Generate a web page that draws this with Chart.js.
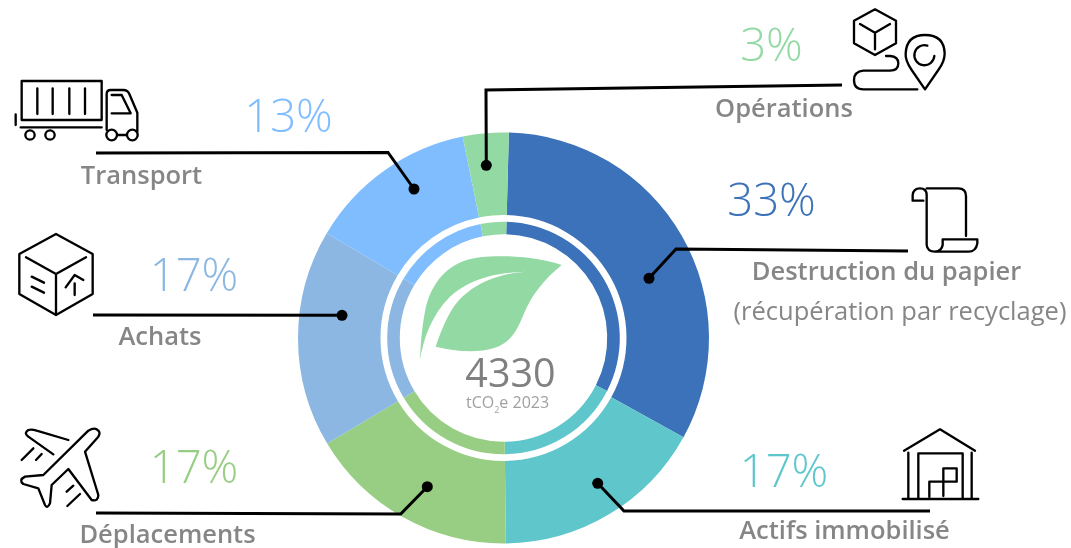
<!DOCTYPE html>
<html lang="fr">
<head>
<meta charset="utf-8">
<title>Bilan carbone 2023</title>
<script src="https://cdn.jsdelivr.net/npm/chart.js@4/dist/chart.umd.min.js"></script>
<style>
html,body{margin:0;padding:0;background:#fff}
#wrap{position:relative;width:1071px;height:548px}
</style>
</head>
<body>
<div id="wrap"><canvas id="c" width="1071" height="548"></canvas></div>
<script>
const categories = ["Destruction du papier","Actifs immobilisé","Déplacements","Achats","Transport","Opérations"];
const outerValues = [32.6,16.8,16.6,17.1,13.3,3.6];
const innerValues = [32.1,17.3,16.6,17.1,13.3,3.6];
const percentLabels = ["33%","17%","17%","17%","13%","3%"];
const colors = ["#3b72b9","#5fc7cc","#97ce83","#8bb7e2","#80bdff","#93d9a3"];
const centerValue = "4330";

const GREY = "#868686";
const FONT = '"Open Sans"';

const pctPositions = [[771.5,203],[784,474],[194,470],[194,278],[288.5,119],[771.5,48]];
const labelBlocks = [
  ["Destruction du papier",886.5,272.5,"600"],
  ["(récupération par recyclage)",900,313,"400"],
  ["Actifs immobilisé",844.5,531.5,"600"],
  ["Déplacements",167.5,535.5,"600"],
  ["Achats",160,337.5,"600"],
  ["Transport",141.5,176.5,"600"],
  ["Opérations",784,109.5,"600"]
];
const leaders = [
  [[649,278.3],[676,249],[908,251]],
  [[597.7,483.3],[624,511],[930,511]],
  [[427.3,486.7],[400.7,514],[96,513]],
  [[342,315.3],[93,315]],
  [[414,189],[388,152.5],[96,153]],
  [[486.3,165.3],[486,90],[842,85]]
];
const leafPath = "M815 420 C740 395 640 390 570 397 C470 408 420 480 405 560 C395 610 392 660 390 705 C400 640 425 570 480 515 C540 460 620 442 710 440 C620 445 540 480 495 540 C470 575 450 625 437 665 C490 678 560 685 610 670 C660 655 680 620 700 570 C725 510 760 465 815 420 Z";
const icons = [
  {o:[0,70],d:"M65 33 H305 V150 H65 Z M112 55 V132 M158 55 V132 M208 55 V132 M255 55 V132 M47 133 V165 M62 172 H305 M104 195 A14 14 0 1 1 76 195 A14 14 0 1 1 104 195 M164 195 A14 14 0 1 1 136 195 A14 14 0 1 1 164 195 M320 180 V72 Q320 60 332 60 H370 Q383 60 388 72 L412 128 V185 M335 130 H392 L365 75 H335 M351 195 A16 16 0 1 1 319 195 A16 16 0 1 1 351 195 M413 195 A16 16 0 1 1 381 195 A16 16 0 1 1 413 195 M351 195 H381"},
  {o:[0,70],d:"M168 492 L278 552 V672 L168 735 L58 672 V552 Z M78 562 L168 612 L258 562 M168 612 V735 M95 620 L132 638 M95 650 L132 668 M224 640 V675 M197 652 L224 615 L250 630"},
  {o:[840,0],d:"M105 28 L168 62 V130 L105 165 L42 130 V62 Z M60 72 L105 98 L150 72 M105 98 V148 M138 168 H150 Q175 170 175 190 Q175 212 150 212 H70 Q42 215 42 240 Q42 268 70 268 H232 M255 268 L215 210 Q195 180 197 160 Q200 105 255 105 Q312 105 314 160 Q314 185 295 210 Z M262 137 A30 30 0 1 0 283 168"},
  {o:[0,420],d:"M265 32 L130 165 L75 170 Q55 180 70 192 L115 205 L135 255 Q142 268 150 250 L155 195 L205 147 L275 240 Q295 245 295 225 L255 95 L295 50 Q302 38 295 32 Q285 20 265 32 Z M160 103 L85 50 Q70 40 85 30 Q95 27 110 32 L205 60 M65 120 L100 85 M108 120 L125 102 M200 215 L220 197 M202 258 L240 222"},
  {o:[890,180],d:"M110 25 H205 Q228 25 228 48 V168 M68 62 V45 Q70 25 90 25 Q110 25 110 45 V195 Q112 215 135 215 Q155 213 158 195 V178 H262 V190 Q258 215 235 215 H135 M68 62 H100"},
  {o:[890,420],d:"M42 92 L150 28 L255 92 M55 98 V235 M245 98 V235 M38 237 H265 M85 235 V100 H218 V235 M118 230 V185 H200 M160 228 V145 H200 V185"}
];

const annotations = {
  id:"annotations",
  afterDraw(chart){
    const ctx = chart.ctx;
    ctx.save();
    ctx.textAlign="center"; ctx.textBaseline="middle";

    // leaders
    ctx.strokeStyle="#000"; ctx.fillStyle="#000"; ctx.lineWidth=3; ctx.lineJoin="miter";
    leaders.forEach(pts=>{
      ctx.beginPath();
      pts.forEach((p,i)=> i?ctx.lineTo(p[0],p[1]):ctx.moveTo(p[0],p[1]));
      ctx.stroke();
      ctx.beginPath(); ctx.arc(pts[0][0],pts[0][1],5.5,0,Math.PI*2); ctx.fill();
    });

    // icons
    ctx.lineWidth=7; ctx.lineCap="round"; ctx.lineJoin="round"; ctx.strokeStyle="#000";
    icons.forEach(ic=>{
      ctx.save();
      ctx.translate(ic.o[0],ic.o[1]); ctx.scale(1/3,1/3);
      ctx.stroke(new Path2D(ic.d));
      ctx.restore();
    });

    // leaf
    ctx.save();
    ctx.translate(290,125); ctx.scale(1/3,1/3);
    ctx.fillStyle=colors[5];
    ctx.fill(new Path2D(leafPath));
    ctx.restore();

    // centre
    ctx.fillStyle="#808080";
    ctx.font='400 39.5px '+FONT;
    ctx.fillText(centerValue,510.5,376);
    ctx.fillStyle="#a0a0a0";
    ctx.font='400 16px '+FONT;
    ctx.textAlign="left";
    ctx.fillText("tCO",466,403);
    let x=466+ctx.measureText("tCO").width;
    ctx.font='400 9px '+FONT;
    ctx.fillText("2",x,410);
    x+=ctx.measureText("2").width;
    ctx.font='400 16px '+FONT;
    ctx.fillText("e 2023",x,403);
    ctx.textAlign="center";

    // percentages
    ctx.font='300 45.5px '+FONT;
    percentLabels.forEach((t,i)=>{
      ctx.fillStyle=colors[i];
      ctx.fillText(t,pctPositions[i][0],pctPositions[i][1]);
    });

    // labels
    labelBlocks.forEach(l=>{
      ctx.fillStyle=GREY;
      ctx.font=l[3]+' 25.5px '+FONT;
      ctx.fillText(l[0],l[1],l[2]);
    });
    ctx.restore();
  }
};

new Chart(document.getElementById("c"),{
  type:"doughnut",
  data:{
    labels:categories,
    datasets:[
      {data:outerValues,backgroundColor:colors,borderWidth:0,weight:82.5},
      {data:outerValues,backgroundColor:"rgba(0,0,0,0)",borderWidth:0,weight:6.7},
      {data:innerValues,backgroundColor:colors,borderWidth:0,weight:12.6}
    ]
  },
  options:{
    responsive:false,
    animation:false,
    rotation:1.5,
    cutout:103.7,
    radius:205.5,
    layout:{padding:{left:298,right:362,top:132.5,bottom:4.5}},
    plugins:{legend:{display:false},tooltip:{enabled:false}}
  },
  plugins:[annotations]
});
</script>
</body>
</html>
